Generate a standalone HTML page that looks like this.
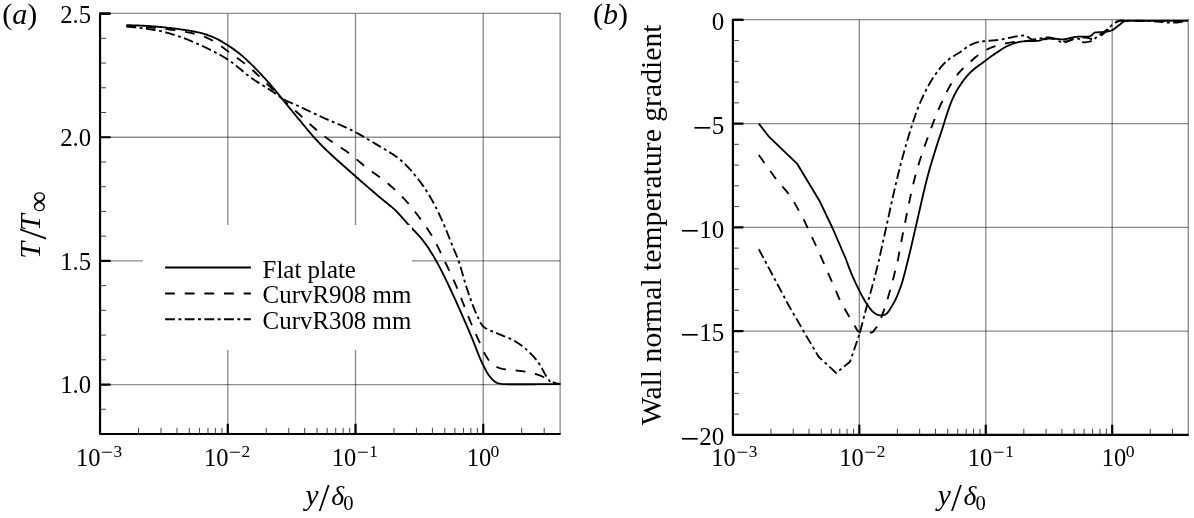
<!DOCTYPE html>
<html lang="en">
<head>
<meta charset="utf-8">
<title>Temperature profiles</title>
<style>
html,body{margin:0;padding:0;background:#fff;}
body{width:1194px;height:518px;overflow:hidden;}
svg{display:block;will-change:transform;}
</style>
</head>
<body>
<svg width="1194" height="518" viewBox="0 0 1194 518" font-family='"Liberation Serif", "DejaVu Serif", serif' fill="#000">
<rect width="1194" height="518" fill="#fff"/>
<g stroke-opacity="0.45">
<line x1="227.78" y1="13.6" x2="227.78" y2="434" stroke="#000" stroke-width="1.33"/>
<line x1="355.51" y1="13.6" x2="355.51" y2="434" stroke="#000" stroke-width="1.33"/>
<line x1="483.24" y1="13.6" x2="483.24" y2="434" stroke="#000" stroke-width="1.33"/>
<line x1="100.05" y1="137.25" x2="560.14" y2="137.25" stroke="#000" stroke-width="1.33"/>
<line x1="100.05" y1="260.89" x2="560.14" y2="260.89" stroke="#000" stroke-width="1.33"/>
<line x1="100.05" y1="384.54" x2="560.14" y2="384.54" stroke="#000" stroke-width="1.33"/>
<line x1="100.05" y1="13.4" x2="560.64" y2="13.4" stroke="#000" stroke-width="1.33"/>
<line x1="560.14" y1="13.1" x2="560.14" y2="434" stroke="#000" stroke-width="1.33"/>
</g>
<rect x="143" y="225" width="269" height="125" fill="#fff"/>
<line x1="100.05" y1="409.27" x2="106.05" y2="409.27" stroke="#444" stroke-width="1"/>
<line x1="100.05" y1="359.81" x2="106.05" y2="359.81" stroke="#444" stroke-width="1"/>
<line x1="100.05" y1="335.08" x2="106.05" y2="335.08" stroke="#444" stroke-width="1"/>
<line x1="100.05" y1="310.35" x2="106.05" y2="310.35" stroke="#444" stroke-width="1"/>
<line x1="100.05" y1="285.62" x2="106.05" y2="285.62" stroke="#444" stroke-width="1"/>
<line x1="100.05" y1="236.16" x2="106.05" y2="236.16" stroke="#444" stroke-width="1"/>
<line x1="100.05" y1="211.44" x2="106.05" y2="211.44" stroke="#444" stroke-width="1"/>
<line x1="100.05" y1="186.71" x2="106.05" y2="186.71" stroke="#444" stroke-width="1"/>
<line x1="100.05" y1="161.98" x2="106.05" y2="161.98" stroke="#444" stroke-width="1"/>
<line x1="100.05" y1="112.52" x2="106.05" y2="112.52" stroke="#444" stroke-width="1"/>
<line x1="100.05" y1="87.79" x2="106.05" y2="87.79" stroke="#444" stroke-width="1"/>
<line x1="100.05" y1="63.06" x2="106.05" y2="63.06" stroke="#444" stroke-width="1"/>
<line x1="100.05" y1="38.33" x2="106.05" y2="38.33" stroke="#444" stroke-width="1"/>
<line x1="138.5" y1="434" x2="138.5" y2="427.8" stroke="#444" stroke-width="1"/>
<line x1="160.99" y1="434" x2="160.99" y2="427.8" stroke="#444" stroke-width="1"/>
<line x1="176.95" y1="434" x2="176.95" y2="427.8" stroke="#444" stroke-width="1"/>
<line x1="189.33" y1="434" x2="189.33" y2="427.8" stroke="#444" stroke-width="1"/>
<line x1="199.44" y1="434" x2="199.44" y2="427.8" stroke="#444" stroke-width="1"/>
<line x1="207.99" y1="434" x2="207.99" y2="427.8" stroke="#444" stroke-width="1"/>
<line x1="215.4" y1="434" x2="215.4" y2="427.8" stroke="#444" stroke-width="1"/>
<line x1="221.94" y1="434" x2="221.94" y2="427.8" stroke="#444" stroke-width="1"/>
<line x1="266.23" y1="434" x2="266.23" y2="427.8" stroke="#444" stroke-width="1"/>
<line x1="288.72" y1="434" x2="288.72" y2="427.8" stroke="#444" stroke-width="1"/>
<line x1="304.68" y1="434" x2="304.68" y2="427.8" stroke="#444" stroke-width="1"/>
<line x1="317.06" y1="434" x2="317.06" y2="427.8" stroke="#444" stroke-width="1"/>
<line x1="327.17" y1="434" x2="327.17" y2="427.8" stroke="#444" stroke-width="1"/>
<line x1="335.72" y1="434" x2="335.72" y2="427.8" stroke="#444" stroke-width="1"/>
<line x1="343.13" y1="434" x2="343.13" y2="427.8" stroke="#444" stroke-width="1"/>
<line x1="349.67" y1="434" x2="349.67" y2="427.8" stroke="#444" stroke-width="1"/>
<line x1="393.96" y1="434" x2="393.96" y2="427.8" stroke="#444" stroke-width="1"/>
<line x1="416.45" y1="434" x2="416.45" y2="427.8" stroke="#444" stroke-width="1"/>
<line x1="432.41" y1="434" x2="432.41" y2="427.8" stroke="#444" stroke-width="1"/>
<line x1="444.79" y1="434" x2="444.79" y2="427.8" stroke="#444" stroke-width="1"/>
<line x1="454.9" y1="434" x2="454.9" y2="427.8" stroke="#444" stroke-width="1"/>
<line x1="463.45" y1="434" x2="463.45" y2="427.8" stroke="#444" stroke-width="1"/>
<line x1="470.86" y1="434" x2="470.86" y2="427.8" stroke="#444" stroke-width="1"/>
<line x1="477.4" y1="434" x2="477.4" y2="427.8" stroke="#444" stroke-width="1"/>
<line x1="521.69" y1="434" x2="521.69" y2="427.8" stroke="#444" stroke-width="1"/>
<line x1="544.18" y1="434" x2="544.18" y2="427.8" stroke="#444" stroke-width="1"/>
<line x1="100.05" y1="13.6" x2="109.85" y2="13.6" stroke="#000" stroke-width="2.2" stroke-linecap="round"/>
<line x1="100.05" y1="137.25" x2="109.85" y2="137.25" stroke="#000" stroke-width="2.2" stroke-linecap="round"/>
<line x1="100.05" y1="260.89" x2="109.85" y2="260.89" stroke="#000" stroke-width="2.2" stroke-linecap="round"/>
<line x1="100.05" y1="384.54" x2="109.85" y2="384.54" stroke="#000" stroke-width="2.2" stroke-linecap="round"/>
<line x1="227.78" y1="434" x2="227.78" y2="423.8" stroke="#000" stroke-width="2.2"/>
<line x1="355.51" y1="434" x2="355.51" y2="423.8" stroke="#000" stroke-width="2.2"/>
<line x1="483.24" y1="434" x2="483.24" y2="423.8" stroke="#000" stroke-width="2.2"/>
<path d="M109.85 13.6 H100.05 V434 H559.74" fill="none" stroke="#000" stroke-width="2.2" stroke-linejoin="round" stroke-linecap="round"/>
<clipPath id="clipA"><rect x="100.05" y="13.3" width="460.69" height="420.4"/></clipPath>
<g fill="none" stroke="#000" stroke-width="1.85" stroke-linejoin="round" clip-path="url(#clipA)">
<path d="M126.4 25.2 L127.91 25.22 L129.41 25.24 L130.92 25.27 L132.42 25.31 L133.93 25.36 L135.43 25.4 L136.93 25.46 L138.44 25.52 L139.94 25.58 L141.44 25.64 L142.95 25.71 L144.45 25.77 L145.95 25.85 L147.45 25.93 L148.95 26.02 L150.45 26.12 L151.96 26.23 L153.46 26.35 L154.96 26.48 L156.46 26.61 L157.96 26.74 L159.45 26.88 L160.95 27.01 L162.45 27.16 L163.95 27.31 L165.44 27.46 L166.94 27.63 L168.44 27.8 L169.93 27.97 L171.43 28.16 L172.92 28.34 L174.41 28.54 L175.9 28.73 L177.39 28.94 L178.88 29.14 L180.37 29.35 L181.86 29.57 L183.35 29.78 L184.85 30 L186.34 30.23 L187.84 30.46 L189.33 30.7 L190.82 30.94 L192.31 31.2 L193.79 31.47 L195.27 31.75 L196.74 32.05 L198.21 32.36 L199.66 32.68 L201.11 33.03 L202.56 33.4 L204 33.82 L205.44 34.27 L206.88 34.75 L208.31 35.26 L209.72 35.8 L211.13 36.35 L212.53 36.93 L213.91 37.52 L215.27 38.12 L216.62 38.76 L217.96 39.43 L219.28 40.14 L220.6 40.88 L221.9 41.65 L223.2 42.43 L224.49 43.23 L225.76 44.04 L227.04 44.84 L228.3 45.65 L229.56 46.47 L230.82 47.3 L232.07 48.14 L233.31 49 L234.54 49.87 L235.76 50.76 L236.97 51.65 L238.17 52.56 L239.36 53.49 L240.52 54.42 L241.68 55.38 L242.82 56.36 L243.95 57.35 L245.06 58.37 L246.17 59.39 L247.27 60.42 L248.37 61.46 L249.45 62.5 L250.54 63.55 L251.61 64.6 L252.69 65.65 L253.75 66.71 L254.81 67.78 L255.86 68.86 L256.91 69.94 L257.95 71.02 L258.99 72.12 L260.02 73.21 L261.05 74.31 L262.08 75.41 L263.1 76.52 L264.12 77.63 L265.13 78.74 L266.14 79.85 L267.15 80.97 L268.15 82.09 L269.15 83.22 L270.14 84.35 L271.13 85.49 L272.12 86.62 L273.1 87.77 L274.07 88.91 L275.04 90.07 L276 91.22 L276.96 92.38 L277.9 93.56 L278.83 94.74 L279.76 95.92 L280.69 97.11 L281.63 98.28 L282.57 99.45 L283.52 100.62 L284.47 101.79 L285.42 102.96 L286.37 104.12 L287.32 105.29 L288.28 106.45 L289.23 107.61 L290.19 108.77 L291.15 109.93 L292.11 111.09 L293.06 112.25 L294.03 113.41 L294.99 114.57 L295.95 115.73 L296.91 116.88 L297.87 118.04 L298.83 119.2 L299.8 120.35 L300.76 121.51 L301.72 122.67 L302.67 123.83 L303.63 125 L304.58 126.16 L305.54 127.33 L306.5 128.49 L307.46 129.65 L308.42 130.81 L309.39 131.96 L310.36 133.11 L311.33 134.25 L312.32 135.39 L313.31 136.52 L314.3 137.65 L315.31 138.76 L316.33 139.87 L317.35 140.98 L318.38 142.07 L319.42 143.16 L320.47 144.25 L321.52 145.32 L322.58 146.39 L323.65 147.45 L324.72 148.5 L325.8 149.55 L326.88 150.59 L327.97 151.63 L329.06 152.66 L330.15 153.69 L331.25 154.71 L332.36 155.74 L333.47 156.75 L334.58 157.77 L335.69 158.78 L336.81 159.79 L337.93 160.8 L339.05 161.8 L340.18 162.8 L341.3 163.8 L342.43 164.8 L343.56 165.8 L344.69 166.79 L345.82 167.79 L346.95 168.78 L348.08 169.78 L349.21 170.77 L350.35 171.76 L351.48 172.76 L352.61 173.75 L353.74 174.74 L354.87 175.74 L355.99 176.74 L357.12 177.73 L358.25 178.73 L359.38 179.72 L360.51 180.71 L361.64 181.7 L362.78 182.69 L363.91 183.68 L365.05 184.67 L366.18 185.66 L367.32 186.64 L368.46 187.63 L369.6 188.61 L370.74 189.59 L371.88 190.57 L373.02 191.55 L374.16 192.53 L375.31 193.51 L376.45 194.49 L377.6 195.46 L378.74 196.43 L379.89 197.41 L381.05 198.38 L382.21 199.33 L383.38 200.28 L384.56 201.22 L385.75 202.16 L386.93 203.1 L388.11 204.04 L389.28 204.99 L390.45 205.94 L391.6 206.9 L392.74 207.88 L393.86 208.88 L394.96 209.89 L396.04 210.92 L397.1 211.98 L398.13 213.06 L399.16 214.16 L400.17 215.28 L401.17 216.41 L402.16 217.54 L403.15 218.68 L404.14 219.82 L405.13 220.96 L406.12 222.1 L407.12 223.23 L408.13 224.34 L409.16 225.45 L410.19 226.55 L411.24 227.64 L412.29 228.72 L413.34 229.81 L414.4 230.89 L415.45 231.97 L416.49 233.06 L417.53 234.16 L418.55 235.26 L419.56 236.38 L420.55 237.51 L421.51 238.65 L422.46 239.81 L423.37 240.98 L424.27 242.17 L425.15 243.38 L426.03 244.6 L426.89 245.84 L427.74 247.08 L428.57 248.34 L429.4 249.6 L430.22 250.88 L431.02 252.16 L431.82 253.44 L432.6 254.74 L433.38 256.03 L434.15 257.33 L434.91 258.63 L435.66 259.92 L436.4 261.23 L437.13 262.53 L437.86 263.85 L438.57 265.17 L439.28 266.49 L439.98 267.82 L440.68 269.16 L441.36 270.5 L442.04 271.84 L442.72 273.19 L443.39 274.54 L444.06 275.89 L444.72 277.24 L445.38 278.6 L446.03 279.96 L446.68 281.32 L447.33 282.68 L447.98 284.04 L448.63 285.4 L449.27 286.76 L449.91 288.13 L450.56 289.49 L451.2 290.84 L451.84 292.21 L452.48 293.57 L453.11 294.93 L453.74 296.3 L454.37 297.66 L455 299.03 L455.62 300.4 L456.24 301.77 L456.86 303.14 L457.48 304.51 L458.09 305.89 L458.7 307.26 L459.32 308.64 L459.92 310.01 L460.53 311.39 L461.14 312.77 L461.74 314.15 L462.34 315.53 L462.95 316.91 L463.55 318.29 L464.14 319.67 L464.74 321.05 L465.34 322.43 L465.93 323.81 L466.53 325.2 L467.12 326.58 L467.72 327.96 L468.31 329.35 L468.9 330.73 L469.49 332.11 L470.09 333.5 L470.68 334.88 L471.27 336.27 L471.85 337.66 L472.42 339.05 L472.98 340.45 L473.53 341.85 L474.08 343.26 L474.63 344.67 L475.17 346.08 L475.72 347.49 L476.26 348.9 L476.81 350.31 L477.36 351.71 L477.91 353.11 L478.47 354.51 L479.04 355.91 L479.62 357.29 L480.21 358.68 L480.81 360.05 L481.43 361.41 L482.06 362.77 L482.71 364.12 L483.38 365.45 L484.06 366.8 L484.74 368.16 L485.45 369.53 L486.17 370.9 L486.92 372.25 L487.7 373.57 L488.52 374.84 L489.38 376.05 L490.28 377.19 L491.24 378.25 L492.29 379.33 L493.44 380.43 L494.67 381.46 L495.96 382.35 L497.29 383.03 L498.64 383.43 L500.05 383.68 L501.54 383.89 L503.07 384.06 L504.61 384.17 L506.13 384.2 L507.63 384.2 L509.13 384.2 L510.64 384.2 L512.14 384.2 L513.64 384.2 L515.15 384.2 L516.65 384.2 L518.16 384.2 L519.66 384.2 L521.17 384.2 L522.68 384.2 L524.18 384.2 L525.69 384.2 L527.2 384.2 L528.7 384.2 L530.21 384.2 L531.71 384.2 L533.22 384.2 L534.72 384.2 L536.23 384.19 L537.73 384.19 L539.23 384.19 L540.74 384.18 L542.24 384.18 L543.75 384.17 L545.25 384.17 L546.76 384.16 L548.26 384.16 L549.77 384.15 L551.27 384.14 L552.78 384.14 L554.28 384.13 L555.79 384.12 L557.29 384.12 L558.8 384.11 L560.3 384.1"/>
<path d="M126.4 25.8 L127.91 25.87 L129.41 25.95 L130.92 26.03 L132.43 26.12 L133.93 26.21 L135.44 26.31 L136.94 26.41 L138.45 26.52 L139.95 26.63 L141.45 26.74 L142.96 26.86 L144.46 26.99 L145.96 27.11 L147.46 27.24 L148.97 27.37 L150.47 27.51 L151.97 27.64 L153.47 27.78 L154.97 27.93 L156.47 28.07 L157.97 28.22 L159.46 28.37 L160.96 28.52 L162.46 28.67 L163.96 28.83 L165.46 29 L166.96 29.18 L168.46 29.36 L169.95 29.55 L171.45 29.74 L172.94 29.94 L174.44 30.15 L175.93 30.37 L177.42 30.59 L178.91 30.83 L180.39 31.06 L181.88 31.31 L183.37 31.56 L184.86 31.82 L186.36 32.09 L187.85 32.36 L189.34 32.65 L190.83 32.96 L192.31 33.27 L193.79 33.6 L195.26 33.95 L196.72 34.31 L198.16 34.69 L199.6 35.09 L201.02 35.51 L202.44 35.97 L203.84 36.48 L205.24 37.04 L206.63 37.65 L208.01 38.29 L209.38 38.96 L210.74 39.66 L212.08 40.37 L213.4 41.1 L214.71 41.84 L216 42.59 L217.26 43.39 L218.51 44.22 L219.74 45.09 L220.95 45.99 L222.16 46.9 L223.37 47.82 L224.57 48.74 L225.78 49.66 L226.99 50.56 L228.22 51.44 L229.44 52.32 L230.67 53.2 L231.9 54.07 L233.12 54.95 L234.35 55.83 L235.57 56.72 L236.79 57.6 L238 58.5 L239.21 59.4 L240.41 60.31 L241.61 61.22 L242.8 62.14 L244 63.06 L245.19 63.99 L246.37 64.93 L247.55 65.87 L248.72 66.82 L249.88 67.79 L251.02 68.76 L252.16 69.75 L253.28 70.75 L254.39 71.77 L255.49 72.79 L256.59 73.83 L257.68 74.87 L258.76 75.92 L259.84 76.97 L260.93 78.03 L262.01 79.08 L263.09 80.13 L264.18 81.17 L265.27 82.21 L266.36 83.26 L267.44 84.3 L268.53 85.35 L269.62 86.39 L270.7 87.44 L271.78 88.49 L272.86 89.54 L273.94 90.59 L275.02 91.64 L276.1 92.7 L277.17 93.76 L278.23 94.83 L279.29 95.91 L280.35 96.97 L281.43 98.03 L282.52 99.07 L283.61 100.11 L284.71 101.14 L285.81 102.17 L286.91 103.19 L288.02 104.21 L289.14 105.23 L290.25 106.24 L291.37 107.25 L292.49 108.26 L293.61 109.27 L294.74 110.28 L295.86 111.28 L296.98 112.29 L298.1 113.3 L299.23 114.3 L300.35 115.31 L301.46 116.32 L302.58 117.34 L303.69 118.36 L304.81 119.38 L305.92 120.41 L307.03 121.43 L308.14 122.45 L309.25 123.48 L310.37 124.5 L311.48 125.51 L312.61 126.52 L313.73 127.53 L314.86 128.53 L315.99 129.52 L317.13 130.51 L318.28 131.48 L319.43 132.44 L320.59 133.4 L321.76 134.34 L322.94 135.27 L324.13 136.18 L325.34 137.08 L326.55 137.96 L327.78 138.83 L329.01 139.7 L330.26 140.55 L331.51 141.39 L332.76 142.23 L334.02 143.07 L335.28 143.9 L336.54 144.73 L337.81 145.56 L339.07 146.39 L340.33 147.22 L341.59 148.06 L342.84 148.9 L344.09 149.75 L345.33 150.61 L346.57 151.48 L347.79 152.36 L349 153.25 L350.2 154.15 L351.39 155.08 L352.57 156.01 L353.74 156.96 L354.9 157.93 L356.05 158.9 L357.2 159.87 L358.35 160.85 L359.5 161.83 L360.65 162.81 L361.8 163.79 L362.95 164.76 L364.12 165.72 L365.29 166.66 L366.47 167.6 L367.66 168.52 L368.87 169.42 L370.09 170.31 L371.31 171.2 L372.54 172.07 L373.77 172.94 L375.01 173.81 L376.25 174.68 L377.48 175.55 L378.71 176.43 L379.94 177.31 L381.15 178.2 L382.35 179.1 L383.55 180.02 L384.72 180.95 L385.89 181.9 L387.04 182.86 L388.2 183.83 L389.34 184.81 L390.49 185.79 L391.63 186.79 L392.76 187.79 L393.89 188.8 L395.01 189.82 L396.12 190.85 L397.22 191.88 L398.31 192.93 L399.4 193.98 L400.47 195.04 L401.53 196.11 L402.58 197.19 L403.61 198.27 L404.64 199.36 L405.65 200.47 L406.65 201.59 L407.64 202.72 L408.63 203.86 L409.6 205.01 L410.57 206.17 L411.52 207.34 L412.47 208.52 L413.41 209.7 L414.35 210.89 L415.27 212.09 L416.19 213.29 L417.11 214.49 L418.01 215.7 L418.91 216.91 L419.81 218.12 L420.7 219.34 L421.59 220.55 L422.47 221.77 L423.35 222.99 L424.23 224.22 L425.1 225.46 L425.97 226.7 L426.83 227.94 L427.68 229.2 L428.52 230.45 L429.34 231.72 L430.16 232.98 L430.96 234.26 L431.75 235.54 L432.52 236.83 L433.27 238.13 L434.01 239.43 L434.73 240.75 L435.44 242.08 L436.13 243.41 L436.82 244.75 L437.49 246.1 L438.16 247.46 L438.82 248.82 L439.47 250.18 L440.12 251.54 L440.77 252.91 L441.42 254.28 L442.07 255.64 L442.72 257 L443.37 258.36 L444.03 259.71 L444.69 261.07 L445.34 262.43 L446 263.79 L446.65 265.15 L447.3 266.51 L447.95 267.87 L448.6 269.23 L449.25 270.59 L449.89 271.96 L450.53 273.32 L451.17 274.69 L451.8 276.06 L452.43 277.43 L453.05 278.8 L453.67 280.17 L454.29 281.55 L454.9 282.93 L455.5 284.31 L456.1 285.69 L456.69 287.07 L457.27 288.46 L457.85 289.85 L458.42 291.25 L458.98 292.64 L459.54 294.04 L460.1 295.44 L460.65 296.85 L461.2 298.25 L461.75 299.66 L462.29 301.06 L462.84 302.47 L463.38 303.88 L463.92 305.28 L464.47 306.69 L465.01 308.1 L465.55 309.51 L466.1 310.91 L466.65 312.32 L467.2 313.72 L467.75 315.12 L468.31 316.52 L468.88 317.92 L469.45 319.31 L470.02 320.71 L470.6 322.1 L471.19 323.49 L471.78 324.87 L472.38 326.25 L472.98 327.64 L473.59 329.02 L474.19 330.4 L474.81 331.77 L475.42 333.15 L476.04 334.53 L476.66 335.9 L477.28 337.27 L477.9 338.65 L478.53 340.02 L479.16 341.39 L479.79 342.76 L480.42 344.13 L481.05 345.5 L481.66 346.88 L482.27 348.28 L482.87 349.68 L483.48 351.07 L484.11 352.45 L484.77 353.8 L485.47 355.11 L486.23 356.37 L487.05 357.65 L487.91 358.93 L488.83 360.2 L489.79 361.43 L490.8 362.59 L491.86 363.65 L492.96 364.6 L494.12 365.42 L495.39 366.2 L496.75 366.93 L498.17 367.57 L499.62 368.11 L501.05 368.51 L502.48 368.82 L503.92 369.09 L505.39 369.34 L506.86 369.55 L508.36 369.74 L509.86 369.92 L511.37 370.08 L512.88 370.23 L514.4 370.37 L515.93 370.51 L517.45 370.66 L518.97 370.82 L520.48 370.99 L521.99 371.18 L523.49 371.38 L524.97 371.62 L526.45 371.88 L527.93 372.18 L529.41 372.49 L530.89 372.84 L532.36 373.2 L533.83 373.59 L535.3 374.01 L536.74 374.45 L538.18 374.92 L539.59 375.4 L540.98 375.92 L542.34 376.5 L543.66 377.22 L544.96 378.03 L546.24 378.87 L547.53 379.7 L548.83 380.48 L550.16 381.16 L551.54 381.7 L552.94 382.18 L554.37 382.63 L555.82 383.05 L557.3 383.42 L558.79 383.74 L560.3 384" stroke-dasharray="9.8 9.85"/>
<path d="M126.4 26.6 L127.9 26.72 L129.4 26.85 L130.9 26.99 L132.4 27.13 L133.9 27.28 L135.4 27.44 L136.9 27.61 L138.39 27.78 L139.89 27.96 L141.38 28.14 L142.87 28.33 L144.36 28.52 L145.86 28.71 L147.35 28.92 L148.84 29.13 L150.33 29.35 L151.82 29.58 L153.31 29.81 L154.8 30.06 L156.28 30.32 L157.76 30.6 L159.24 30.88 L160.71 31.18 L162.17 31.5 L163.63 31.84 L165.09 32.2 L166.55 32.58 L168.01 32.99 L169.46 33.4 L170.9 33.83 L172.35 34.28 L173.79 34.74 L175.22 35.2 L176.65 35.67 L178.08 36.15 L179.51 36.63 L180.92 37.12 L182.34 37.62 L183.75 38.13 L185.16 38.66 L186.57 39.2 L187.97 39.76 L189.37 40.32 L190.77 40.9 L192.16 41.48 L193.55 42.07 L194.93 42.67 L196.31 43.28 L197.69 43.89 L199.06 44.51 L200.42 45.14 L201.79 45.76 L203.15 46.39 L204.52 47.03 L205.88 47.68 L207.25 48.33 L208.61 48.98 L209.97 49.65 L211.32 50.32 L212.68 51 L214.02 51.69 L215.37 52.39 L216.71 53.09 L218.04 53.81 L219.36 54.53 L220.67 55.26 L221.98 56.01 L223.28 56.76 L224.57 57.53 L225.84 58.3 L227.11 59.09 L228.36 59.89 L229.6 60.72 L230.82 61.58 L232.03 62.46 L233.23 63.37 L234.42 64.29 L235.59 65.23 L236.77 66.18 L237.93 67.14 L239.09 68.11 L240.25 69.08 L241.41 70.05 L242.57 71.03 L243.74 72 L244.91 72.96 L246.08 73.92 L247.26 74.86 L248.45 75.79 L249.65 76.7 L250.86 77.58 L252.08 78.45 L253.32 79.31 L254.57 80.15 L255.82 80.98 L257.08 81.8 L258.35 82.61 L259.63 83.41 L260.9 84.21 L262.18 85.01 L263.47 85.8 L264.75 86.6 L266.03 87.39 L267.31 88.19 L268.59 88.99 L269.86 89.8 L271.12 90.62 L272.38 91.44 L273.63 92.28 L274.87 93.13 L276.11 93.99 L277.32 94.89 L278.5 95.84 L279.68 96.78 L280.89 97.67 L282.15 98.45 L283.44 99.19 L284.75 99.9 L286.09 100.57 L287.44 101.23 L288.81 101.86 L290.19 102.48 L291.57 103.09 L292.96 103.69 L294.36 104.29 L295.75 104.89 L297.14 105.5 L298.52 106.12 L299.89 106.75 L301.25 107.39 L302.61 108.03 L303.97 108.68 L305.34 109.32 L306.7 109.97 L308.06 110.61 L309.42 111.25 L310.78 111.9 L312.14 112.54 L313.5 113.18 L314.86 113.82 L316.23 114.46 L317.59 115.1 L318.96 115.73 L320.32 116.36 L321.69 116.99 L323.06 117.62 L324.43 118.24 L325.8 118.86 L327.18 119.47 L328.56 120.07 L329.95 120.66 L331.34 121.25 L332.73 121.83 L334.12 122.41 L335.51 122.99 L336.9 123.57 L338.29 124.16 L339.68 124.74 L341.07 125.33 L342.45 125.93 L343.83 126.53 L345.2 127.14 L346.57 127.77 L347.93 128.4 L349.28 129.05 L350.63 129.71 L351.97 130.39 L353.3 131.08 L354.63 131.77 L355.96 132.48 L357.28 133.2 L358.6 133.93 L359.92 134.66 L361.23 135.4 L362.54 136.15 L363.85 136.91 L365.15 137.67 L366.45 138.43 L367.75 139.2 L369.04 139.97 L370.34 140.75 L371.63 141.52 L372.92 142.3 L374.21 143.08 L375.49 143.86 L376.79 144.63 L378.09 145.4 L379.39 146.17 L380.7 146.94 L382.01 147.71 L383.33 148.48 L384.64 149.25 L385.94 150.03 L387.25 150.82 L388.54 151.61 L389.83 152.41 L391.11 153.22 L392.38 154.04 L393.63 154.87 L394.87 155.72 L396.09 156.59 L397.29 157.46 L398.47 158.36 L399.62 159.28 L400.76 160.22 L401.87 161.18 L402.98 162.17 L404.07 163.19 L405.15 164.24 L406.21 165.3 L407.26 166.39 L408.31 167.49 L409.33 168.61 L410.35 169.74 L411.35 170.89 L412.35 172.04 L413.33 173.21 L414.3 174.38 L415.26 175.55 L416.2 176.73 L417.14 177.91 L418.07 179.08 L418.98 180.27 L419.89 181.46 L420.79 182.67 L421.68 183.88 L422.55 185.11 L423.42 186.35 L424.28 187.59 L425.13 188.85 L425.96 190.11 L426.78 191.38 L427.59 192.65 L428.39 193.93 L429.17 195.22 L429.94 196.51 L430.7 197.8 L431.44 199.1 L432.18 200.41 L432.9 201.72 L433.61 203.04 L434.32 204.37 L435.01 205.71 L435.7 207.05 L436.37 208.4 L437.04 209.75 L437.71 211.11 L438.36 212.47 L439.01 213.84 L439.65 215.2 L440.29 216.57 L440.92 217.94 L441.54 219.31 L442.16 220.69 L442.78 222.06 L443.39 223.43 L443.99 224.81 L444.59 226.19 L445.17 227.58 L445.75 228.97 L446.31 230.36 L446.88 231.76 L447.43 233.16 L447.99 234.56 L448.54 235.96 L449.08 237.36 L449.63 238.77 L450.18 240.17 L450.73 241.57 L451.28 242.98 L451.84 244.38 L452.4 245.77 L452.96 247.17 L453.53 248.56 L454.12 249.95 L454.72 251.33 L455.32 252.72 L455.93 254.1 L456.52 255.48 L457.1 256.87 L457.65 258.27 L458.18 259.67 L458.68 261.09 L459.16 262.51 L459.62 263.94 L460.07 265.37 L460.51 266.81 L460.93 268.26 L461.35 269.71 L461.76 271.16 L462.17 272.61 L462.57 274.06 L462.98 275.52 L463.38 276.97 L463.8 278.42 L464.22 279.87 L464.64 281.31 L465.08 282.75 L465.54 284.19 L466 285.62 L466.47 287.05 L466.94 288.48 L467.41 289.91 L467.88 291.35 L468.36 292.78 L468.84 294.21 L469.32 295.65 L469.81 297.08 L470.31 298.5 L470.81 299.93 L471.32 301.35 L471.84 302.76 L472.37 304.17 L472.9 305.58 L473.45 306.98 L474.01 308.37 L474.58 309.76 L475.17 311.14 L475.77 312.51 L476.38 313.89 L476.99 315.32 L477.62 316.78 L478.26 318.25 L478.92 319.7 L479.61 321.12 L480.34 322.48 L481.11 323.76 L481.93 324.94 L482.8 325.99 L483.74 326.91 L484.82 327.73 L486.02 328.48 L487.34 329.18 L488.74 329.84 L490.18 330.47 L491.66 331.07 L493.14 331.67 L494.59 332.28 L495.99 332.9 L497.36 333.51 L498.75 334.1 L500.16 334.67 L501.57 335.23 L502.98 335.78 L504.39 336.33 L505.81 336.88 L507.21 337.44 L508.6 338.02 L509.98 338.62 L511.33 339.24 L512.66 339.9 L513.97 340.6 L515.26 341.35 L516.55 342.13 L517.82 342.95 L519.08 343.8 L520.32 344.68 L521.54 345.58 L522.75 346.51 L523.92 347.45 L525.08 348.41 L526.21 349.38 L527.32 350.37 L528.42 351.39 L529.51 352.43 L530.59 353.5 L531.65 354.59 L532.69 355.7 L533.71 356.83 L534.71 357.97 L535.69 359.13 L536.64 360.3 L537.57 361.48 L538.46 362.67 L539.32 363.88 L540.12 365.14 L540.89 366.43 L541.63 367.75 L542.34 369.09 L543.05 370.44 L543.76 371.79 L544.47 373.13 L545.21 374.45 L545.98 375.74 L546.79 377 L547.65 378.21 L548.55 379.57 L549.49 381.01 L550.49 382.31 L551.56 383.25 L552.73 383.63 L554.02 383.76 L555.43 383.86 L556.96 383.94 L558.58 383.98 L560.3 384" stroke-dasharray="9.8 3.5 2.9 3.45"/>
</g>
<rect x="143" y="225" width="269" height="125" fill="#fff"/>
<text x="91.2" y="22.5" font-size="24.8" text-anchor="end">2.5</text>
<text x="91.2" y="146.15" font-size="24.8" text-anchor="end">2.0</text>
<text x="91.2" y="269.79" font-size="24.8" text-anchor="end">1.5</text>
<text x="91.2" y="393.44" font-size="24.8" text-anchor="end">1.0</text>
<text y="465.9" font-size="24.5"><tspan x="75.94">10</tspan><tspan x="101.04" y="458.8" font-size="21">−</tspan><tspan x="113.44" y="456.7" font-size="17.3">3</tspan></text>
<text y="465.9" font-size="24.5"><tspan x="203.94">10</tspan><tspan x="229.04" y="458.8" font-size="21">−</tspan><tspan x="241.44" y="456.7" font-size="17.3">2</tspan></text>
<text y="465.9" font-size="24.5"><tspan x="331.84">10</tspan><tspan x="356.94" y="458.8" font-size="21">−</tspan><tspan x="369.34" y="456.7" font-size="17.3">1</tspan></text>
<text y="465.9" font-size="24.5"><tspan x="466.69">10</tspan><tspan x="490.59" y="456.7" font-size="17.6">0</tspan></text>
<text y="504.9" font-size="29.5"><tspan x="305.5" font-style="italic">y</tspan><tspan x="318.7" dy="5.8" font-size="39">/</tspan><tspan x="331.3" dy="-5.8" font-size="27.8" font-style="italic">δ</tspan><tspan x="343.2" dy="4.6" font-size="20.6">0</tspan></text>
<text x="2.2" y="24" font-size="30" text-anchor="start">(<tspan font-style="italic">a</tspan>)</text>
<text transform="translate(40.1 0) rotate(-90)" font-size="30"><tspan x="-258.7" y="0" font-style="italic">T</tspan><tspan x="-239.4" y="6" font-size="40">/</tspan><tspan x="-231" y="0" font-style="italic">T</tspan><tspan x="-212.3" y="8.3" font-size="29.5">∞</tspan></text>
<line x1="165.1" y1="267.6" x2="250.9" y2="267.6" stroke="#000" stroke-width="2"/>
<text x="262.6" y="277.6" font-size="24.9" text-anchor="start">Flat plate</text>
<line x1="165.1" y1="293.4" x2="250.9" y2="293.4" stroke="#000" stroke-width="2" stroke-dasharray="9.8 9.85"/>
<text x="262.6" y="303.1" font-size="24.9" text-anchor="start">CurvR908 mm</text>
<line x1="165.1" y1="319.2" x2="250.9" y2="319.2" stroke="#000" stroke-width="2" stroke-dasharray="9.8 3.5 2.9 3.45"/>
<text x="262.6" y="328.6" font-size="24.9" text-anchor="start">CurvR308 mm</text>
<g stroke-opacity="0.45">
<line x1="859.33" y1="19.8" x2="859.33" y2="434.9" stroke="#000" stroke-width="1.33"/>
<line x1="985.76" y1="19.8" x2="985.76" y2="434.9" stroke="#000" stroke-width="1.33"/>
<line x1="1112.19" y1="19.8" x2="1112.19" y2="434.9" stroke="#000" stroke-width="1.33"/>
<line x1="732.9" y1="123.58" x2="1188.31" y2="123.58" stroke="#000" stroke-width="1.33"/>
<line x1="732.9" y1="227.35" x2="1188.31" y2="227.35" stroke="#000" stroke-width="1.33"/>
<line x1="732.9" y1="331.12" x2="1188.31" y2="331.12" stroke="#000" stroke-width="1.33"/>
<line x1="732.9" y1="19.6" x2="1188.81" y2="19.6" stroke="#000" stroke-width="1.33"/>
<line x1="1188.31" y1="19.3" x2="1188.31" y2="434.9" stroke="#000" stroke-width="1.33"/>
</g>
<line x1="732.9" y1="40.55" x2="738.9" y2="40.55" stroke="#444" stroke-width="1"/>
<line x1="732.9" y1="61.31" x2="738.9" y2="61.31" stroke="#444" stroke-width="1"/>
<line x1="732.9" y1="82.06" x2="738.9" y2="82.06" stroke="#444" stroke-width="1"/>
<line x1="732.9" y1="102.82" x2="738.9" y2="102.82" stroke="#444" stroke-width="1"/>
<line x1="732.9" y1="144.33" x2="738.9" y2="144.33" stroke="#444" stroke-width="1"/>
<line x1="732.9" y1="165.09" x2="738.9" y2="165.09" stroke="#444" stroke-width="1"/>
<line x1="732.9" y1="185.84" x2="738.9" y2="185.84" stroke="#444" stroke-width="1"/>
<line x1="732.9" y1="206.59" x2="738.9" y2="206.59" stroke="#444" stroke-width="1"/>
<line x1="732.9" y1="248.1" x2="738.9" y2="248.1" stroke="#444" stroke-width="1"/>
<line x1="732.9" y1="268.86" x2="738.9" y2="268.86" stroke="#444" stroke-width="1"/>
<line x1="732.9" y1="289.61" x2="738.9" y2="289.61" stroke="#444" stroke-width="1"/>
<line x1="732.9" y1="310.37" x2="738.9" y2="310.37" stroke="#444" stroke-width="1"/>
<line x1="732.9" y1="351.88" x2="738.9" y2="351.88" stroke="#444" stroke-width="1"/>
<line x1="732.9" y1="372.63" x2="738.9" y2="372.63" stroke="#444" stroke-width="1"/>
<line x1="732.9" y1="393.39" x2="738.9" y2="393.39" stroke="#444" stroke-width="1"/>
<line x1="732.9" y1="414.14" x2="738.9" y2="414.14" stroke="#444" stroke-width="1"/>
<line x1="770.96" y1="434.9" x2="770.96" y2="428.7" stroke="#444" stroke-width="1"/>
<line x1="793.22" y1="434.9" x2="793.22" y2="428.7" stroke="#444" stroke-width="1"/>
<line x1="809.02" y1="434.9" x2="809.02" y2="428.7" stroke="#444" stroke-width="1"/>
<line x1="821.27" y1="434.9" x2="821.27" y2="428.7" stroke="#444" stroke-width="1"/>
<line x1="831.28" y1="434.9" x2="831.28" y2="428.7" stroke="#444" stroke-width="1"/>
<line x1="839.75" y1="434.9" x2="839.75" y2="428.7" stroke="#444" stroke-width="1"/>
<line x1="847.08" y1="434.9" x2="847.08" y2="428.7" stroke="#444" stroke-width="1"/>
<line x1="853.54" y1="434.9" x2="853.54" y2="428.7" stroke="#444" stroke-width="1"/>
<line x1="897.39" y1="434.9" x2="897.39" y2="428.7" stroke="#444" stroke-width="1"/>
<line x1="919.65" y1="434.9" x2="919.65" y2="428.7" stroke="#444" stroke-width="1"/>
<line x1="935.45" y1="434.9" x2="935.45" y2="428.7" stroke="#444" stroke-width="1"/>
<line x1="947.7" y1="434.9" x2="947.7" y2="428.7" stroke="#444" stroke-width="1"/>
<line x1="957.71" y1="434.9" x2="957.71" y2="428.7" stroke="#444" stroke-width="1"/>
<line x1="966.18" y1="434.9" x2="966.18" y2="428.7" stroke="#444" stroke-width="1"/>
<line x1="973.51" y1="434.9" x2="973.51" y2="428.7" stroke="#444" stroke-width="1"/>
<line x1="979.97" y1="434.9" x2="979.97" y2="428.7" stroke="#444" stroke-width="1"/>
<line x1="1023.82" y1="434.9" x2="1023.82" y2="428.7" stroke="#444" stroke-width="1"/>
<line x1="1046.08" y1="434.9" x2="1046.08" y2="428.7" stroke="#444" stroke-width="1"/>
<line x1="1061.88" y1="434.9" x2="1061.88" y2="428.7" stroke="#444" stroke-width="1"/>
<line x1="1074.13" y1="434.9" x2="1074.13" y2="428.7" stroke="#444" stroke-width="1"/>
<line x1="1084.14" y1="434.9" x2="1084.14" y2="428.7" stroke="#444" stroke-width="1"/>
<line x1="1092.61" y1="434.9" x2="1092.61" y2="428.7" stroke="#444" stroke-width="1"/>
<line x1="1099.94" y1="434.9" x2="1099.94" y2="428.7" stroke="#444" stroke-width="1"/>
<line x1="1106.4" y1="434.9" x2="1106.4" y2="428.7" stroke="#444" stroke-width="1"/>
<line x1="1150.25" y1="434.9" x2="1150.25" y2="428.7" stroke="#444" stroke-width="1"/>
<line x1="1172.51" y1="434.9" x2="1172.51" y2="428.7" stroke="#444" stroke-width="1"/>
<line x1="732.9" y1="19.8" x2="742.7" y2="19.8" stroke="#000" stroke-width="2.2" stroke-linecap="round"/>
<line x1="732.9" y1="123.58" x2="742.7" y2="123.58" stroke="#000" stroke-width="2.2" stroke-linecap="round"/>
<line x1="732.9" y1="227.35" x2="742.7" y2="227.35" stroke="#000" stroke-width="2.2" stroke-linecap="round"/>
<line x1="732.9" y1="331.12" x2="742.7" y2="331.12" stroke="#000" stroke-width="2.2" stroke-linecap="round"/>
<line x1="859.33" y1="434.9" x2="859.33" y2="424.7" stroke="#000" stroke-width="2.2"/>
<line x1="985.76" y1="434.9" x2="985.76" y2="424.7" stroke="#000" stroke-width="2.2"/>
<line x1="1112.19" y1="434.9" x2="1112.19" y2="424.7" stroke="#000" stroke-width="2.2"/>
<path d="M742.7 19.8 H732.9 V434.9 H1187.91" fill="none" stroke="#000" stroke-width="2.2" stroke-linejoin="round" stroke-linecap="round"/>
<clipPath id="clipB"><rect x="732.9" y="19.5" width="456.01" height="415.1"/></clipPath>
<g fill="none" stroke="#000" stroke-width="1.85" stroke-linejoin="round" clip-path="url(#clipB)">
<path d="M758.8 123.6 L768.6 136.3 L797.3 163.9 L819.9 201.6 L832.5 228 L846.3 260 L846.79 261.44 L847.29 262.87 L847.8 264.3 L848.33 265.72 L848.86 267.14 L849.4 268.55 L849.96 269.96 L850.52 271.36 L851.1 272.75 L851.68 274.15 L852.27 275.54 L852.87 276.92 L853.48 278.3 L854.1 279.67 L854.72 281.04 L855.35 282.41 L855.99 283.77 L856.63 285.13 L857.28 286.49 L857.94 287.84 L858.6 289.19 L859.26 290.53 L859.94 291.88 L860.63 293.22 L861.33 294.57 L862.04 295.91 L862.77 297.24 L863.51 298.56 L864.27 299.87 L865.05 301.16 L865.85 302.44 L866.67 303.7 L867.51 304.93 L868.38 306.16 L869.27 307.42 L870.19 308.67 L871.16 309.88 L872.18 311.01 L873.25 312.01 L874.39 312.88 L875.66 313.78 L877.03 314.6 L878.46 315.16 L879.9 315.3 L881.46 315.21 L883.03 315.04 L884.42 314.81 L885.61 314.38 L886.72 313.55 L887.76 312.43 L888.74 311.12 L889.66 309.69 L890.53 308.25 L891.36 306.89 L892.14 305.63 L892.9 304.36 L893.64 303.06 L894.36 301.74 L895.05 300.39 L895.72 299.03 L896.37 297.65 L896.99 296.26 L897.6 294.85 L898.19 293.44 L898.75 292.03 L899.3 290.61 L899.83 289.2 L900.33 287.79 L900.83 286.38 L901.3 284.96 L901.76 283.53 L902.21 282.1 L902.64 280.66 L903.06 279.21 L903.47 277.76 L903.87 276.3 L904.26 274.84 L904.64 273.38 L905.02 271.91 L905.4 270.44 L905.76 268.98 L906.13 267.51 L906.49 266.04 L906.86 264.57 L907.22 263.1 L907.59 261.63 L907.96 260.17 L908.33 258.71 L908.69 257.25 L909.05 255.78 L909.41 254.32 L909.76 252.85 L910.11 251.39 L910.45 249.92 L910.8 248.45 L911.14 246.98 L911.48 245.51 L911.81 244.04 L912.15 242.57 L912.49 241.1 L912.82 239.63 L913.16 238.16 L913.49 236.69 L913.83 235.22 L914.17 233.75 L914.5 232.28 L914.84 230.81 L915.19 229.34 L915.53 227.87 L915.87 226.41 L916.21 224.94 L916.55 223.47 L916.89 222 L917.23 220.53 L917.56 219.06 L917.9 217.58 L918.23 216.11 L918.56 214.64 L918.89 213.17 L919.23 211.7 L919.56 210.22 L919.89 208.75 L920.22 207.28 L920.55 205.81 L920.89 204.34 L921.22 202.87 L921.55 201.39 L921.89 199.92 L922.23 198.45 L922.57 196.98 L922.91 195.51 L923.25 194.05 L923.6 192.58 L923.94 191.11 L924.29 189.64 L924.65 188.18 L925 186.71 L925.36 185.25 L925.73 183.79 L926.09 182.33 L926.46 180.87 L926.84 179.41 L927.22 177.95 L927.6 176.5 L927.99 175.04 L928.38 173.59 L928.78 172.14 L929.18 170.68 L929.59 169.23 L930 167.79 L930.42 166.34 L930.84 164.89 L931.27 163.44 L931.69 162 L932.13 160.55 L932.56 159.11 L933 157.67 L933.45 156.22 L933.89 154.78 L934.34 153.34 L934.79 151.9 L935.25 150.46 L935.7 149.02 L936.16 147.59 L936.62 146.15 L937.08 144.71 L937.55 143.28 L938.01 141.84 L938.48 140.41 L938.95 138.97 L939.42 137.54 L939.89 136.11 L940.36 134.67 L940.83 133.24 L941.3 131.81 L941.78 130.38 L942.25 128.94 L942.71 127.51 L943.17 126.06 L943.63 124.61 L944.08 123.16 L944.53 121.71 L944.99 120.26 L945.44 118.8 L945.9 117.35 L946.36 115.9 L946.82 114.45 L947.29 113 L947.77 111.56 L948.26 110.12 L948.75 108.69 L949.25 107.27 L949.77 105.86 L950.3 104.45 L950.84 103.06 L951.4 101.67 L951.98 100.3 L952.57 98.94 L953.18 97.59 L953.81 96.26 L954.47 94.93 L955.15 93.6 L955.87 92.27 L956.6 90.95 L957.37 89.63 L958.15 88.31 L958.96 87.01 L959.79 85.71 L960.64 84.43 L961.51 83.16 L962.4 81.91 L963.3 80.68 L964.22 79.46 L965.16 78.27 L966.11 77.11 L967.07 75.97 L968.04 74.85 L969.03 73.77 L970.04 72.72 L971.1 71.69 L972.2 70.7 L973.33 69.72 L974.5 68.76 L975.69 67.82 L976.9 66.9 L978.12 65.98 L979.36 65.08 L980.6 64.18 L981.84 63.28 L983.08 62.39 L984.3 61.49 L985.52 60.59 L986.72 59.68 L987.93 58.78 L989.14 57.88 L990.36 56.99 L991.59 56.11 L992.82 55.23 L994.05 54.37 L995.3 53.52 L996.55 52.69 L997.81 51.87 L999.08 51.03 L1000.35 50.18 L1001.62 49.34 L1002.9 48.52 L1004.2 47.72 L1005.51 46.97 L1006.84 46.27 L1008.18 45.64 L1009.55 45.08 L1010.94 44.54 L1012.36 44 L1013.8 43.48 L1015.25 42.99 L1016.71 42.54 L1018.19 42.14 L1019.67 41.81 L1021.15 41.56 L1022.63 41.4 L1024.11 41.31 L1025.61 41.24 L1027.13 41.19 L1028.64 41.15 L1030.17 41.12 L1031.69 41.08 L1033.21 41.04 L1034.72 40.99 L1036.22 40.93 L1037.71 40.85 L1039.18 40.7 L1040.63 40.31 L1042.07 39.75 L1043.49 39.12 L1044.92 38.52 L1046.36 38.05 L1047.81 37.81 L1049.28 37.83 L1050.77 37.95 L1052.26 38.14 L1053.76 38.38 L1055.27 38.63 L1056.77 38.89 L1058.28 39.12 L1059.79 39.29 L1061.29 39.39 L1062.78 39.38 L1064.27 39.25 L1065.75 39.03 L1067.23 38.73 L1068.72 38.38 L1070.2 38.01 L1071.68 37.64 L1073.16 37.3 L1074.65 37.01 L1076.14 36.8 L1077.63 36.7 L1079.15 36.66 L1080.7 36.64 L1082.25 36.62 L1083.81 36.61 L1085.34 36.59 L1086.84 36.57 L1088.29 36.54 L1089.66 36.47 L1090.94 35.87 L1092.15 34.77 L1093.34 33.59 L1094.59 32.71 L1095.95 32.43 L1097.41 32.31 L1098.92 32.24 L1100.47 32.17 L1102.02 32.09 L1103.53 31.96 L1105.04 31.78 L1106.57 31.56 L1108.08 31.3 L1109.55 30.98 L1110.95 30.61 L1112.28 30.09 L1113.55 29.34 L1114.78 28.44 L1115.99 27.46 L1117.2 26.47 L1118.44 25.54 L1119.69 24.66 L1120.94 23.64 L1122.2 22.61 L1123.47 21.73 L1124.78 21.15 L1126.14 20.99 L1127.54 20.96 L1128.98 20.93 L1130.45 20.9 L1131.95 20.88 L1133.47 20.86 L1135.01 20.84 L1136.56 20.83 L1138.11 20.82 L1139.66 20.81 L1141.21 20.8 L1142.75 20.8 L1144.27 20.8 L1145.78 20.8 L1147.29 20.8 L1148.8 20.8 L1150.3 20.8 L1151.81 20.8 L1153.32 20.8 L1154.83 20.8 L1156.33 20.8 L1157.84 20.8 L1159.35 20.8 L1160.86 20.81 L1162.37 20.81 L1163.87 20.81 L1165.38 20.81 L1166.89 20.81 L1168.4 20.82 L1169.91 20.82 L1171.41 20.82 L1172.92 20.83 L1174.43 20.83 L1175.94 20.84 L1177.44 20.84 L1178.95 20.85 L1180.46 20.86 L1181.97 20.86 L1183.48 20.87 L1184.98 20.88 L1186.49 20.89 L1188 20.9"/>
<path d="M758.8 155 L776 179 L791 196.6 L803.6 219.2 L813.6 240.6 L822.4 260 L841 302.7 L857.7 331 L865 334.5 L872.8 332 L879 324 L886.6 302.7 L892.9 280 L897.9 260 L898.17 258.52 L898.44 257.04 L898.71 255.56 L898.98 254.07 L899.25 252.59 L899.53 251.11 L899.8 249.63 L900.08 248.15 L900.36 246.67 L900.64 245.19 L900.92 243.71 L901.2 242.23 L901.48 240.76 L901.77 239.28 L902.06 237.8 L902.34 236.32 L902.63 234.84 L902.93 233.37 L903.22 231.89 L903.51 230.41 L903.81 228.94 L904.11 227.46 L904.41 225.99 L904.7 224.51 L905 223.03 L905.29 221.55 L905.59 220.08 L905.89 218.6 L906.18 217.12 L906.48 215.64 L906.77 214.16 L907.07 212.68 L907.37 211.21 L907.67 209.73 L907.97 208.25 L908.27 206.77 L908.57 205.29 L908.88 203.82 L909.19 202.34 L909.5 200.86 L909.81 199.39 L910.12 197.92 L910.44 196.44 L910.76 194.97 L911.09 193.5 L911.41 192.03 L911.75 190.56 L912.08 189.09 L912.42 187.63 L912.76 186.16 L913.11 184.7 L913.46 183.24 L913.82 181.78 L914.18 180.32 L914.55 178.87 L914.92 177.41 L915.3 175.96 L915.68 174.51 L916.08 173.06 L916.48 171.62 L916.88 170.17 L917.3 168.73 L917.72 167.29 L918.15 165.85 L918.59 164.41 L919.03 162.97 L919.48 161.53 L919.94 160.09 L920.4 158.66 L920.87 157.23 L921.34 155.79 L921.82 154.36 L922.3 152.93 L922.79 151.51 L923.28 150.08 L923.77 148.65 L924.27 147.23 L924.77 145.8 L925.27 144.38 L925.78 142.96 L926.29 141.54 L926.8 140.12 L927.32 138.7 L927.83 137.29 L928.35 135.87 L928.86 134.46 L929.38 133.04 L929.9 131.63 L930.42 130.22 L930.94 128.81 L931.46 127.4 L931.99 125.98 L932.52 124.57 L933.05 123.16 L933.59 121.75 L934.13 120.34 L934.68 118.94 L935.23 117.53 L935.79 116.13 L936.35 114.73 L936.92 113.34 L937.5 111.95 L938.09 110.56 L938.68 109.18 L939.28 107.8 L939.89 106.43 L940.51 105.06 L941.14 103.7 L941.77 102.33 L942.41 100.97 L943.05 99.59 L943.7 98.22 L944.35 96.84 L945.01 95.47 L945.68 94.09 L946.35 92.72 L947.04 91.36 L947.74 90 L948.44 88.65 L949.16 87.32 L949.9 85.99 L950.64 84.68 L951.4 83.38 L952.18 82.1 L952.97 80.83 L953.78 79.59 L954.6 78.36 L955.45 77.16 L956.31 75.98 L957.22 74.82 L958.16 73.67 L959.13 72.54 L960.14 71.43 L961.17 70.33 L962.23 69.24 L963.31 68.17 L964.41 67.11 L965.53 66.07 L966.65 65.03 L967.79 64.01 L968.93 63 L970.06 62 L971.2 61.02 L972.33 60.04 L973.47 59.05 L974.62 58.06 L975.79 57.07 L976.96 56.09 L978.15 55.13 L979.35 54.19 L980.57 53.29 L981.8 52.42 L983.05 51.61 L984.32 50.84 L985.61 50.14 L986.93 49.48 L988.28 48.84 L989.66 48.23 L991.06 47.65 L992.48 47.09 L993.91 46.57 L995.35 46.07 L996.79 45.6 L998.24 45.17 L999.68 44.77 L1001.13 44.39 L1002.59 44.04 L1004.06 43.7 L1005.54 43.38 L1007.02 43.09 L1008.51 42.81 L1009.99 42.56 L1011.48 42.33 L1012.96 42.1 L1014.45 41.89 L1015.95 41.68 L1017.44 41.49 L1018.94 41.32 L1020.44 41.17 L1021.94 41.05 L1023.44 40.96 L1024.94 40.89 L1026.45 40.83 L1027.96 40.78 L1029.46 40.74 L1030.97 40.7 L1032.48 40.65 L1033.99 40.61 L1035.49 40.55 L1036.99 40.48 L1038.49 40.39 L1039.98 40.23 L1041.47 39.98 L1042.96 39.68 L1044.45 39.36 L1045.94 39.05 L1047.42 38.8 L1048.91 38.64 L1050.39 38.6 L1051.88 38.71 L1053.37 38.92 L1054.85 39.22 L1056.34 39.58 L1057.83 39.96 L1059.31 40.35 L1060.8 40.71 L1062.28 41.03 L1063.75 41.26 L1065.22 41.39 L1066.69 41.36 L1068.15 41.11 L1069.6 40.7 L1071.05 40.2 L1072.5 39.69 L1073.96 39.24 L1075.43 38.92 L1076.91 38.63 L1078.4 38.34 L1079.9 38.07 L1081.4 37.83 L1082.89 37.64 L1084.38 37.53 L1085.86 37.51 L1087.34 37.76 L1088.82 38.23 L1090.29 38.75 L1091.74 39.2 L1093.18 39.4 L1094.6 39.17 L1096 38.53 L1097.36 37.75 L1098.68 37.03 L1099.96 36.25 L1101.22 35.41 L1102.45 34.51 L1103.65 33.59 L1104.82 32.65 L1105.95 31.66 L1107.03 30.59 L1108.07 29.46 L1109.09 28.32 L1110.13 27.21 L1111.2 26.15 L1112.32 25.19 L1113.52 24.34 L1114.79 23.45 L1116.11 22.55 L1117.48 21.76 L1118.88 21.15 L1120.28 20.83 L1121.7 20.8 L1123.13 20.81 L1124.57 20.82 L1126.04 20.84 L1127.51 20.86 L1129 20.88 L1130.51 20.91 L1132.02 20.94 L1133.54 20.97 L1135.06 21 L1136.6 21.03 L1138.13 21.06 L1139.67 21.09 L1141.21 21.12 L1142.74 21.14 L1144.28 21.16 L1145.81 21.18 L1147.33 21.19 L1148.85 21.2 L1150.36 21.2 L1151.86 21.2 L1153.37 21.2 L1154.88 21.2 L1156.38 21.2 L1157.89 21.2 L1159.39 21.2 L1160.9 21.2 L1162.4 21.19 L1163.91 21.19 L1165.41 21.19 L1166.92 21.18 L1168.43 21.18 L1169.93 21.17 L1171.44 21.16 L1172.94 21.16 L1174.45 21.15 L1175.95 21.14 L1177.46 21.12 L1178.97 21.11 L1180.47 21.1 L1181.98 21.08 L1183.48 21.06 L1184.99 21.04 L1186.49 21.02 L1188 21" stroke-dasharray="9.8 9.85"/>
<path d="M758.8 249.3 L765.9 262.5 L788.5 305 L806 335.4 L818.6 356.7 L836.2 373 L850 361.8 L859.5 334 L867.7 302.7 L874 280 L879 260 L879.32 258.53 L879.64 257.06 L879.96 255.59 L880.29 254.11 L880.61 252.64 L880.93 251.17 L881.25 249.7 L881.58 248.23 L881.9 246.76 L882.22 245.29 L882.55 243.82 L882.87 242.34 L883.19 240.87 L883.52 239.4 L883.84 237.93 L884.17 236.46 L884.49 234.99 L884.82 233.52 L885.14 232.05 L885.47 230.58 L885.8 229.11 L886.12 227.64 L886.45 226.17 L886.78 224.7 L887.1 223.23 L887.43 221.76 L887.75 220.28 L888.08 218.81 L888.4 217.34 L888.72 215.87 L889.04 214.4 L889.36 212.93 L889.68 211.45 L890 209.98 L890.32 208.51 L890.64 207.04 L890.97 205.56 L891.29 204.09 L891.61 202.62 L891.93 201.15 L892.26 199.68 L892.58 198.21 L892.91 196.74 L893.24 195.26 L893.57 193.79 L893.9 192.33 L894.23 190.86 L894.57 189.39 L894.91 187.92 L895.25 186.45 L895.59 184.99 L895.93 183.52 L896.28 182.06 L896.63 180.59 L896.98 179.13 L897.34 177.67 L897.7 176.21 L898.06 174.75 L898.43 173.29 L898.8 171.83 L899.17 170.37 L899.54 168.91 L899.91 167.45 L900.29 165.99 L900.67 164.53 L901.05 163.07 L901.43 161.61 L901.82 160.16 L902.2 158.7 L902.59 157.24 L902.99 155.79 L903.38 154.33 L903.78 152.88 L904.18 151.42 L904.59 149.97 L904.99 148.52 L905.4 147.07 L905.82 145.62 L906.23 144.17 L906.65 142.73 L907.07 141.28 L907.5 139.84 L907.93 138.39 L908.36 136.95 L908.8 135.51 L909.24 134.07 L909.68 132.63 L910.13 131.2 L910.58 129.76 L911.03 128.33 L911.48 126.89 L911.94 125.45 L912.4 124.01 L912.87 122.57 L913.33 121.14 L913.81 119.7 L914.29 118.27 L914.77 116.83 L915.27 115.4 L915.77 113.98 L916.27 112.56 L916.79 111.14 L917.31 109.73 L917.85 108.32 L918.39 106.92 L918.95 105.52 L919.51 104.14 L920.09 102.76 L920.68 101.39 L921.28 100.02 L921.9 98.64 L922.52 97.27 L923.16 95.9 L923.81 94.54 L924.48 93.17 L925.16 91.81 L925.84 90.46 L926.54 89.11 L927.26 87.76 L927.98 86.43 L928.72 85.1 L929.47 83.78 L930.23 82.47 L931.01 81.17 L931.79 79.89 L932.59 78.61 L933.4 77.35 L934.22 76.1 L935.06 74.87 L935.9 73.66 L936.77 72.45 L937.66 71.24 L938.58 70.03 L939.53 68.84 L940.5 67.66 L941.49 66.49 L942.51 65.35 L943.54 64.23 L944.6 63.14 L945.67 62.09 L946.77 61.08 L947.88 60.1 L949.02 59.18 L950.21 58.3 L951.45 57.46 L952.72 56.65 L954.02 55.85 L955.32 55.07 L956.63 54.29 L957.94 53.51 L959.22 52.7 L960.49 51.87 L961.73 51 L962.95 50.09 L964.17 49.17 L965.4 48.25 L966.63 47.35 L967.87 46.49 L969.13 45.69 L970.42 44.96 L971.75 44.32 L973.11 43.75 L974.53 43.21 L975.97 42.71 L977.43 42.28 L978.9 41.93 L980.36 41.68 L981.84 41.46 L983.32 41.27 L984.81 41.11 L986.31 40.96 L987.81 40.83 L989.32 40.71 L990.83 40.59 L992.34 40.47 L993.85 40.34 L995.36 40.21 L996.87 40.07 L998.36 39.9 L999.86 39.71 L1001.36 39.49 L1002.86 39.23 L1004.37 38.94 L1005.88 38.63 L1007.4 38.3 L1008.91 37.97 L1010.42 37.63 L1011.93 37.29 L1013.43 36.97 L1014.93 36.66 L1016.41 36.38 L1017.89 36.12 L1019.36 35.9 L1020.81 35.72 L1022.25 35.59 L1023.67 35.52 L1025.08 35.53 L1026.44 35.98 L1027.77 36.83 L1029.09 37.83 L1030.42 38.74 L1031.78 39.31 L1033.18 39.39 L1034.63 39.29 L1036.1 39.12 L1037.59 38.89 L1039.11 38.62 L1040.63 38.33 L1042.15 38.06 L1043.67 37.8 L1045.19 37.59 L1046.69 37.45 L1048.16 37.4 L1049.62 37.51 L1051.08 37.83 L1052.52 38.31 L1053.97 38.9 L1055.4 39.56 L1056.83 40.25 L1058.26 40.91 L1059.69 41.5 L1061.11 41.97 L1062.53 42.29 L1063.95 42.4 L1065.36 42.18 L1066.76 41.66 L1068.15 40.97 L1069.55 40.25 L1070.97 39.65 L1072.42 39.25 L1073.94 38.9 L1075.46 38.6 L1076.93 38.42 L1078.29 38.53 L1079.54 39.37 L1080.73 40.59 L1081.94 41.74 L1083.21 42.38 L1084.61 42.36 L1086.11 42.2 L1087.66 41.94 L1089.2 41.6 L1090.66 41.22 L1092 40.77 L1093.23 40.03 L1094.41 39.05 L1095.57 37.98 L1096.74 36.94 L1097.95 36.03 L1099.18 35.15 L1100.42 34.3 L1101.66 33.44 L1102.9 32.59 L1104.14 31.73 L1105.36 30.85 L1106.56 29.94 L1107.73 29 L1108.85 27.97 L1109.95 26.89 L1111.04 25.81 L1112.15 24.77 L1113.29 23.8 L1114.48 22.95 L1115.76 22.19 L1117.11 21.41 L1118.52 20.72 L1119.95 20.28 L1121.39 20.2 L1122.84 20.21 L1124.32 20.22 L1125.81 20.24 L1127.31 20.27 L1128.82 20.3 L1130.34 20.33 L1131.87 20.37 L1133.4 20.41 L1134.93 20.45 L1136.45 20.49 L1137.98 20.54 L1139.49 20.58 L1140.99 20.63 L1142.5 20.68 L1144 20.75 L1145.51 20.81 L1147.01 20.88 L1148.52 20.96 L1150.02 21.04 L1151.53 21.13 L1153.03 21.22 L1154.53 21.31 L1156.04 21.4 L1157.54 21.51 L1159.04 21.65 L1160.54 21.8 L1162.05 21.97 L1163.55 22.13 L1165.05 22.29 L1166.55 22.44 L1168.05 22.56 L1169.55 22.65 L1171.05 22.69 L1172.55 22.7 L1174.05 22.66 L1175.54 22.58 L1177.04 22.47 L1178.54 22.32 L1180.03 22.14 L1181.53 21.93 L1183.02 21.69 L1184.51 21.42 L1186.01 21.12 L1187.5 20.8" stroke-dasharray="9.8 3.5 2.9 3.45"/>
</g>
<text x="711.7" y="30.1" font-size="25" text-anchor="start">0</text>
<text y="133.88" font-size="25"><tspan x="692.55" dy="4.8" font-size="34">−</tspan><tspan x="711.7" dy="-4.8">5</tspan></text>
<text y="237.65" font-size="25"><tspan x="680.05" dy="4.8" font-size="34">−</tspan><tspan x="699.2" dy="-4.8">10</tspan></text>
<text y="341.42" font-size="25"><tspan x="680.05" dy="4.8" font-size="34">−</tspan><tspan x="699.2" dy="-4.8">15</tspan></text>
<text y="445.2" font-size="25"><tspan x="680.05" dy="4.8" font-size="34">−</tspan><tspan x="699.2" dy="-4.8">20</tspan></text>
<text y="465.9" font-size="24.5"><tspan x="711.34">10</tspan><tspan x="736.44" y="458.8" font-size="21">−</tspan><tspan x="748.84" y="456.7" font-size="17.3">3</tspan></text>
<text y="465.9" font-size="24.5"><tspan x="839.34">10</tspan><tspan x="864.44" y="458.8" font-size="21">−</tspan><tspan x="876.84" y="456.7" font-size="17.3">2</tspan></text>
<text y="465.9" font-size="24.5"><tspan x="967.69">10</tspan><tspan x="992.79" y="458.8" font-size="21">−</tspan><tspan x="1005.19" y="456.7" font-size="17.3">1</tspan></text>
<text y="465.9" font-size="24.5"><tspan x="1101.84">10</tspan><tspan x="1125.74" y="456.7" font-size="17.6">0</tspan></text>
<text y="504.9" font-size="29.5"><tspan x="937.8" font-style="italic">y</tspan><tspan x="951" dy="5.8" font-size="39">/</tspan><tspan x="963.6" dy="-5.8" font-size="27.8" font-style="italic">δ</tspan><tspan x="975.5" dy="4.6" font-size="20.6">0</tspan></text>
<text x="593.1" y="24" font-size="30" text-anchor="start">(<tspan font-style="italic">b</tspan>)</text>
<text transform="translate(661 425.2) rotate(-90)" font-size="29.7">Wall normal temperature gradient</text>
</svg>
</body>
</html>
